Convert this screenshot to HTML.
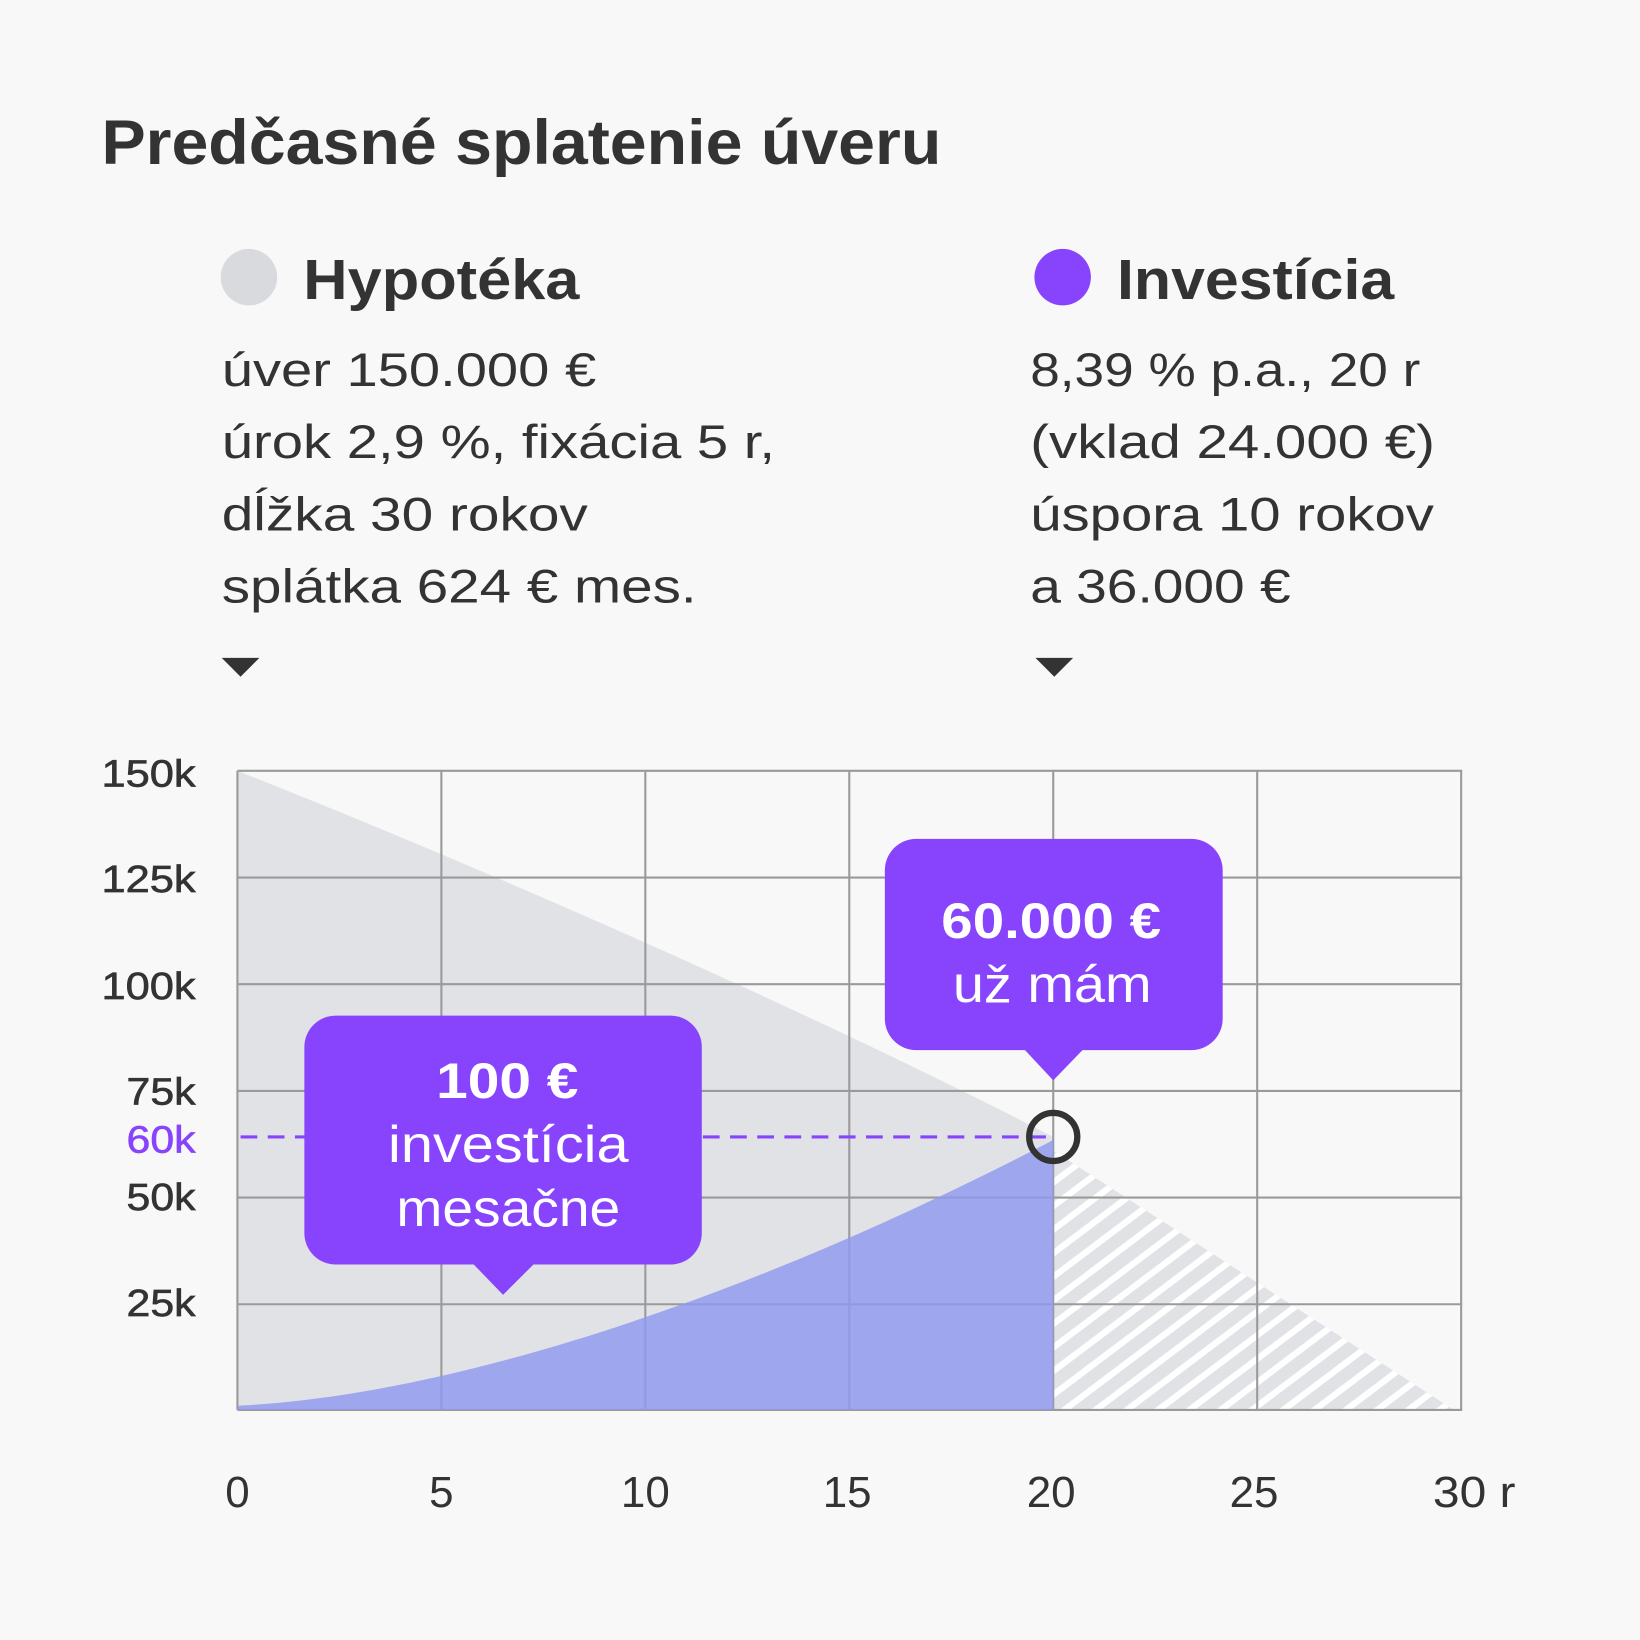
<!DOCTYPE html>
<html><head><meta charset="utf-8"><style>
html,body{margin:0;padding:0;background:#f8f8f8}
svg{display:block}
text{font-family:"Liberation Sans","DejaVu Sans",sans-serif;fill:#333}
</style></head><body>
<svg width="1640" height="1640" viewBox="0 0 1568 1568" xmlns="http://www.w3.org/2000/svg">
<defs>
<pattern id="h" patternUnits="userSpaceOnUse" width="18" height="18" patternTransform="rotate(-37)">
<rect width="18" height="18" fill="#fff"/>
<rect width="18" height="12" fill="#e1e2e6"/>
</pattern>
<clipPath id="rc"><rect x="1007" y="700" width="400" height="700"/></clipPath>
<clipPath id="lc"><rect x="220" y="700" width="787" height="700"/></clipPath>
</defs>
<rect width="1568" height="1568" fill="#f8f8f8"/>
<text x="97" y="157" font-size="60" font-weight="bold" textLength="803" lengthAdjust="spacingAndGlyphs">Predčasné splatenie úveru</text>
<circle cx="238" cy="265" r="27" fill="#d9dadd"/>
<circle cx="1016" cy="265" r="27" fill="#8844fc"/>
<text x="290" y="286" font-size="54" font-weight="bold" textLength="264" lengthAdjust="spacingAndGlyphs">Hypotéka</text>
<text x="1068" y="286" font-size="54" font-weight="bold" textLength="265" lengthAdjust="spacingAndGlyphs">Investícia</text>
<g font-size="45">
<text x="212" y="369" textLength="358" lengthAdjust="spacingAndGlyphs">úver 150.000 €</text>
<text x="212" y="438" textLength="529" lengthAdjust="spacingAndGlyphs">úrok 2,9 %, fixácia 5 r,</text>
<text x="212" y="507" textLength="350" lengthAdjust="spacingAndGlyphs">dĺžka 30 rokov</text>
<text x="212" y="576" textLength="454" lengthAdjust="spacingAndGlyphs">splátka 624 € mes.</text>
<text x="985" y="369" textLength="373" lengthAdjust="spacingAndGlyphs">8,39 % p.a., 20 r</text>
<text x="985" y="438" textLength="387" lengthAdjust="spacingAndGlyphs">(vklad 24.000 €)</text>
<text x="985" y="507" textLength="386" lengthAdjust="spacingAndGlyphs">úspora 10 rokov</text>
<text x="985" y="576" textLength="249" lengthAdjust="spacingAndGlyphs">a 36.000 €</text>
</g>
<polygon points="212,629 248,629 230,647" fill="#333"/>
<polygon points="990,629 1026,629 1008,647" fill="#333"/>
<path clip-path="url(#lc)" d="M227,737 C500,845 800,980 1007,1087 L1390,1348 L227,1348 Z" fill="#e1e2e6"/>
<path clip-path="url(#rc)" d="M990,1080 L1007,1100 L1390,1348 L1007,1348 Z" fill="url(#h)"/>
<g stroke="#9a9a9a" stroke-width="2" fill="none">
<line x1="227" y1="737" x2="1398" y2="737"/>
<line x1="227" y1="839" x2="1398" y2="839"/>
<line x1="227" y1="941" x2="1398" y2="941"/>
<line x1="227" y1="1043" x2="1398" y2="1043"/>
<line x1="227" y1="1145" x2="1398" y2="1145"/>
<line x1="227" y1="1247" x2="1398" y2="1247"/>
<line x1="227" y1="1348" x2="1398" y2="1348"/>
<line x1="227" y1="737" x2="227" y2="1348"/>
<line x1="422" y1="737" x2="422" y2="1348"/>
<line x1="617" y1="737" x2="617" y2="1348"/>
<line x1="812" y1="737" x2="812" y2="1348"/>
<line x1="1007" y1="737" x2="1007" y2="1348"/>
<line x1="1202" y1="737" x2="1202" y2="1348"/>
<line x1="1397" y1="737" x2="1397" y2="1348"/>
</g>
<path d="M227,1344 C420,1335 700,1250 1007,1090 L1007,1348 L227,1348 Z" fill="#8f98ee" fill-opacity="0.82"/>
<line x1="230" y1="1087" x2="1005" y2="1087" stroke="#8844fc" stroke-width="3" stroke-dasharray="16 10"/>
<circle cx="1007" cy="1087" r="23" fill="none" stroke="#333" stroke-width="6"/>
<g font-size="36" stroke="#333" stroke-width="0.6">
<text x="97" y="752" textLength="90" lengthAdjust="spacingAndGlyphs">150k</text>
<text x="97" y="853" textLength="90" lengthAdjust="spacingAndGlyphs">125k</text>
<text x="97" y="955" textLength="90" lengthAdjust="spacingAndGlyphs">100k</text>
<text x="121" y="1056" textLength="66" lengthAdjust="spacingAndGlyphs">75k</text>
<text x="121" y="1102" textLength="66" lengthAdjust="spacingAndGlyphs" stroke="#8844fc" style="fill:#8844fc">60k</text>
<text x="121" y="1157" textLength="66" lengthAdjust="spacingAndGlyphs">50k</text>
<text x="121" y="1258" textLength="66" lengthAdjust="spacingAndGlyphs">25k</text>
</g>
<g font-size="42" text-anchor="middle">
<text x="227" y="1441">0</text>
<text x="422" y="1441">5</text>
<text x="617" y="1441">10</text>
<text x="810" y="1441">15</text>
<text x="1005" y="1441">20</text>
<text x="1199" y="1441">25</text>
</g>
<text x="1370" y="1441" font-size="42" textLength="79" lengthAdjust="spacingAndGlyphs">30 r</text>
<rect x="291" y="971" width="380" height="238" rx="30" fill="#8844fc"/>
<polygon points="452,1208 511,1208 481,1238" fill="#8844fc"/>
<text x="417" y="1050" font-size="48" font-weight="bold" style="fill:#fff" textLength="136" lengthAdjust="spacingAndGlyphs">100 €</text>
<text x="371" y="1111" font-size="50" style="fill:#fff" textLength="230" lengthAdjust="spacingAndGlyphs">investícia</text>
<text x="379" y="1172" font-size="50" style="fill:#fff" textLength="214" lengthAdjust="spacingAndGlyphs">mesačne</text>
<rect x="846" y="802" width="323" height="202" rx="30" fill="#8844fc"/>
<polygon points="979,1003 1036,1003 1007,1033" fill="#8844fc"/>
<text x="900" y="897" font-size="48" font-weight="bold" style="fill:#fff" textLength="210" lengthAdjust="spacingAndGlyphs">60.000 €</text>
<text x="911" y="958" font-size="50" style="fill:#fff" textLength="190" lengthAdjust="spacingAndGlyphs">už mám</text>
</svg>
</body></html>
